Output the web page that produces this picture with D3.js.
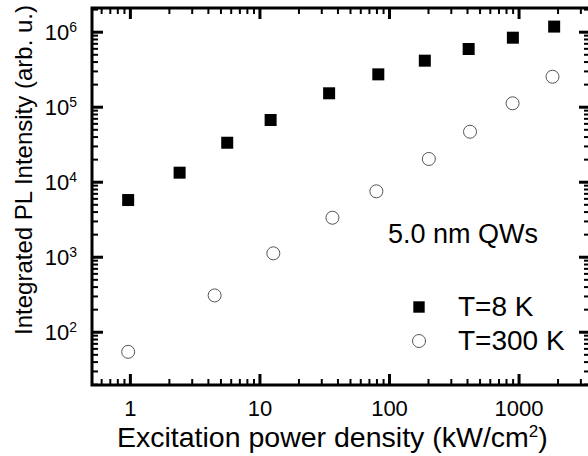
<!DOCTYPE html>
<html>
<head>
<meta charset="utf-8">
<script src="https://cdn.jsdelivr.net/npm/d3@7"></script>
<style>
  body { margin: 0; background: #fff; }
  text { font-family: "Liberation Sans", Arial, sans-serif; fill: #000; }
</style>
</head>
<body>
<div id="chart"></div>
<script>
// data
var powerLow = [0.97, 2.42, 5.64, 12.2, 34.5, 82.7, 189, 412, 904, 1883];
var intensityLow = [5700, 13200, 33100, 66500, 151000, 270000, 411000, 588000, 832000, 1170000];
var powerRoom = [0.97, 4.51, 12.8, 36.6, 79.9, 203, 422, 899, 1828];
var intensityRoom = [54, 305, 1110, 3310, 7450, 20100, 46400, 111000, 251000];
var xTicks = [1, 10, 100, 1000];
var yExponents = [2, 3, 4, 5, 6];
var seriesLabels = ["T=8 K", "T=300 K"];
var noteText = "5.0 nm QWs";

var W = 588, H = 456;
var margin = {top: 8, right: -2, bottom: 71, left: 92};
var width = W - margin.left - margin.right,
    height = H - margin.top - margin.bottom;

var svg = d3.select("#chart").append("svg")
    .attr("width", W)
    .attr("height", H);

var g = svg.append("g")
    .attr("transform", "translate(" + margin.left + "," + margin.top + ")");

var x = d3.scaleLog().domain([0.51, 3560]).range([0, width]);
var y = d3.scaleLog().domain([19.5, 2.07e6]).range([height, 0]);

// minor tick values (2..9 in each decade) inside the domain
function minors(scale) {
  var d = scale.domain(), out = [];
  for (var e = -1; e <= 7; e++) {
    for (var m = 2; m <= 9; m++) {
      var v = m * Math.pow(10, e);
      if (v > d[0] && v < d[1]) out.push(v);
    }
  }
  return out;
}
var xMinor = minors(x), yMinor = minors(y);
var yTicks = yExponents.map(function(e) { return Math.pow(10, e); });

function styleAxis(sel, w) {
  sel.select(".domain").remove();
  sel.selectAll(".tick line").attr("stroke", "#000").attr("stroke-width", w);
}

// bottom
g.append("g").attr("transform", "translate(0," + height + ")")
  .call(d3.axisBottom(x).tickValues(xMinor).tickSize(-6).tickFormat(""))
  .call(styleAxis, 2);
var xb = g.append("g").attr("transform", "translate(0," + height + ")")
  .call(d3.axisBottom(x).tickValues(xTicks).tickSize(-11).tickPadding(15)
    .tickFormat(function(d) { return String(d); }))
  .call(styleAxis, 3);
xb.selectAll(".tick text").style("font-size", "22px").attr("fill", "#000");

// top
g.append("g")
  .call(d3.axisTop(x).tickValues(xMinor).tickSize(-6).tickFormat(""))
  .call(styleAxis, 2);
g.append("g")
  .call(d3.axisTop(x).tickValues(xTicks).tickSize(-11).tickFormat(""))
  .call(styleAxis, 3);

// left
g.append("g")
  .call(d3.axisLeft(y).tickValues(yMinor).tickSize(-6).tickFormat(""))
  .call(styleAxis, 2);
var yl = g.append("g")
  .call(d3.axisLeft(y).tickValues(yTicks).tickSize(-11).tickFormat(""))
  .call(styleAxis, 3);
yl.selectAll(".tick").append("text")
    .attr("x", -15)
    .attr("dy", "0.35em")
    .attr("text-anchor", "end")
    .style("font-size", "22px")
    .each(function(d) {
      var t = d3.select(this);
      t.append("tspan").text("10");
      t.append("tspan").attr("dy", -8).style("font-size", "14px")
        .text(Math.round(Math.log10(d)));
    });

// right
g.append("g").attr("transform", "translate(" + width + ",0)")
  .call(d3.axisRight(y).tickValues(yMinor).tickSize(-6).tickFormat(""))
  .call(styleAxis, 2);
g.append("g").attr("transform", "translate(" + width + ",0)")
  .call(d3.axisRight(y).tickValues(yTicks).tickSize(-11).tickFormat(""))
  .call(styleAxis, 3);

// frame
g.append("rect")
  .attr("width", width).attr("height", height)
  .attr("fill", "none").attr("stroke", "#000").attr("stroke-width", 3);

// data
var low = powerLow.map(function(p, i) { return {p: p, v: intensityLow[i]}; });
var room = powerRoom.map(function(p, i) { return {p: p, v: intensityRoom[i]}; });

g.append("g").selectAll("path")
  .data(low).enter().append("path")
    .attr("d", d3.symbol().type(d3.symbolSquare).size(144))
    .attr("transform", function(d) { return "translate(" + x(d.p) + "," + y(d.v) + ")"; })
    .attr("fill", "#000");

g.append("g").selectAll("circle")
  .data(room).enter().append("circle")
    .attr("cx", function(d) { return x(d.p); })
    .attr("cy", function(d) { return y(d.v); })
    .attr("r", 6.5)
    .attr("fill", "#fff")
    .attr("stroke", "#555")
    .attr("stroke-width", 1);

// annotation + legend
svg.append("text").attr("x", 388).attr("y", 243)
  .style("font-size", "27px").text(noteText);

svg.append("path")
  .attr("d", d3.symbol().type(d3.symbolSquare).size(130))
  .attr("transform", "translate(419,307)")
  .attr("fill", "#000");
svg.append("circle").attr("cx", 419).attr("cy", 341).attr("r", 6.5)
  .attr("fill", "#fff").attr("stroke", "#555").attr("stroke-width", 1);
svg.append("text").attr("x", 458).attr("y", 316)
  .style("font-size", "28px").text(seriesLabels[0]);
svg.append("text").attr("x", 458).attr("y", 350)
  .style("font-size", "28px").text(seriesLabels[1]);

// axis titles
var xt = svg.append("text")
  .attr("x", 117).attr("y", 447)
  .style("font-size", "28.5px");
xt.append("tspan").text("Excitation power density (kW/cm");
xt.append("tspan").attr("dy", -10).style("font-size", "17px").text("2");
xt.append("tspan").attr("dy", 10).text(")");

svg.append("text")
  .attr("transform", "translate(32,170) rotate(-90)")
  .attr("text-anchor", "middle")
  .style("font-size", "24px")
  .text("Integrated PL Intensity (arb. u.)");
</script>
</body>
</html>
